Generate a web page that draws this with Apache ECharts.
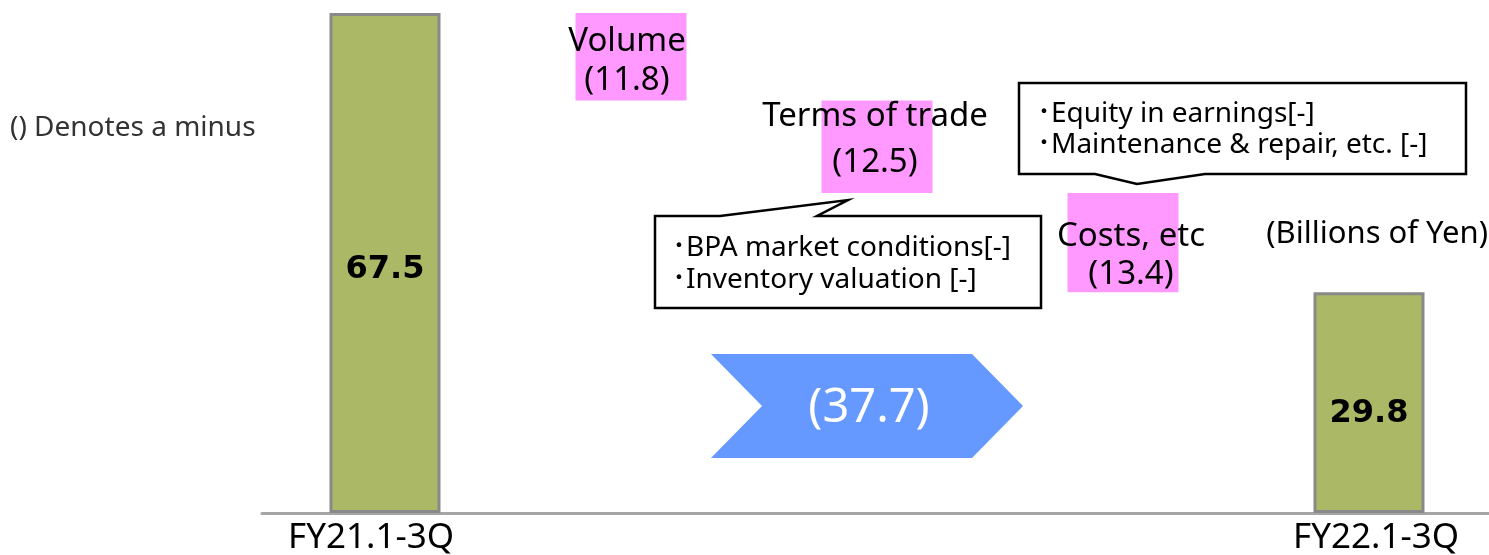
<!DOCTYPE html>
<html>
<head>
<meta charset="utf-8">
<script src="https://cdn.jsdelivr.net/npm/echarts@6/dist/echarts.min.js"></script>
<style>
  html, body { margin: 0; padding: 0; background: #fff; }
  #chart { width: 1489px; height: 555px; }
</style>
</head>
<body>
<div id="chart"></div>
<script>
// categories of the waterfall
const categories = ['FY21.1-3Q', 'Volume', 'Terms of trade', 'Costs, etc', 'FY22.1-3Q'];
// start / end totals (billions of yen)
const startValue = 67.5;
const endValue = 29.8;
// changes between the two periods (negative = minus)
const changes = [-11.8, -12.5, -13.4];

const FONT = '"Noto Sans", "Noto Sans CJK JP", sans-serif';
const BOLD_FONT = '"DejaVu Sans", sans-serif';

// build stacked series: invisible base, pink change bars, green totals
const baseData = [0];
const changeData = ['-'];
const totalData = [startValue];
let running = startValue;
changes.forEach(c => {
  running += c;
  baseData.push(+running.toFixed(1));
  changeData.push(Math.abs(c));
  totalData.push('-');
});
baseData.push(0);
changeData.push('-');
totalData.push(endValue);

// label tweaks for each change bar (offset, line height)
const changeLabelStyle = [
  null,
  { offset: [-4, 4], lineHeight: 39 },
  { offset: [-2, -7], lineHeight: 46 },
  { offset: [8, 13], lineHeight: 38 },
  null
];
const totalLabelOffset = [[0, 7], null, null, null, [0, 11]];

const chart = echarts.init(document.getElementById('chart'));

const option = {
  backgroundColor: '#ffffff',
  animation: false,
  grid: { left: 262, top: 13, width: 1230, bottom: 42, containLabel: false, outerBoundsMode: 'none' },
  xAxis: {
    type: 'category',
    data: categories,
    axisLine: { lineStyle: { color: '#a6a6a6', width: 3 } },
    axisTick: { show: false },
    axisLabel: {
      interval: 0,
      margin: 8,
      fontSize: 35,
      color: '#000',
      fontFamily: FONT,
      formatter: (v, i) => {
        if (i === 0) return '{l|' + v + '}';
        if (i === categories.length - 1) return '{r|' + v + '}';
        return '';
      },
      rich: {
        l: { fontSize: 35, fontFamily: FONT, color: '#000', padding: [0, 28, 0, 0] },
        r: { fontSize: 35, fontFamily: FONT, color: '#000', padding: [0, 0, 0, 14] }
      }
    }
  },
  yAxis: { type: 'value', min: 0, max: startValue, show: false },
  series: [
    {
      type: 'bar',
      stack: 'w',
      barWidth: 111,
      silent: true,
      itemStyle: { color: 'transparent' },
      data: baseData
    },
    {
      type: 'bar',
      stack: 'w',
      barWidth: 111,
      silent: true,
      itemStyle: { color: '#ff99ff' },
      data: changeData.map((v, i) => {
        if (v === '-') return v;
        const s = changeLabelStyle[i];
        return {
          value: v,
          label: {
            show: true,
            position: 'inside',
            offset: s.offset,
            lineHeight: s.lineHeight,
            fontSize: 33,
            color: '#000',
            fontFamily: FONT,
            formatter: p => p.name + '\n(' + p.value.toFixed(1) + ')'
          }
        };
      })
    },
    {
      type: 'bar',
      stack: 'w',
      barWidth: 111,
      silent: true,
      itemStyle: { color: '#abb966', borderColor: '#898989', borderWidth: 3 },
      data: totalData.map((v, i) => {
        if (v === '-') return v;
        return {
          value: v,
          label: {
            show: true,
            position: 'inside',
            offset: totalLabelOffset[i],
            fontSize: 32,
            fontWeight: 'bold',
            color: '#000',
            fontFamily: BOLD_FONT,
            formatter: p => p.value.toFixed(1)
          }
        };
      })
    }
  ],
  graphic: [
    {
      type: 'text',
      x: 10, y: 128,
      style: { text: '() Denotes a minus', font: '28px ' + FONT, fill: '#333', verticalAlign: 'middle' }
    },
    {
      type: 'text',
      x: 1488, y: 234,
      style: { text: '(Billions of Yen)', font: '31px ' + FONT, fill: '#000', align: 'right', verticalAlign: 'middle' }
    },
    // overall change arrow
    {
      type: 'polygon',
      shape: { points: [[711, 354], [972, 354], [1023, 406], [972, 458], [711, 458], [762, 406]] },
      style: { fill: '#6699ff' }
    },
    {
      type: 'text',
      x: 869, y: 409,
      style: {
        text: '(' + Math.abs(endValue - startValue).toFixed(1) + ')',
        font: '47px ' + FONT,
        fill: '#fff',
        align: 'center',
        verticalAlign: 'middle'
      }
    },
    // callout for terms of trade
    {
      type: 'polygon',
      shape: { points: [[655, 216], [720, 216], [848, 200], [817, 216], [1041, 216], [1041, 308], [655, 308]] },
      style: { fill: '#fff', stroke: '#000', lineWidth: 2.5 }
    },
    {
      type: 'text',
      x: 672, y: 264,
      style: { text: '･BPA market conditions[-]\n･Inventory valuation [-]', font: '28px ' + FONT, lineHeight: 32, fill: '#000', verticalAlign: 'middle' }
    },
    // callout for costs
    {
      type: 'polygon',
      shape: { points: [[1019, 83], [1466, 83], [1466, 174], [1205, 174], [1137, 184], [1095, 174], [1019, 174]] },
      style: { fill: '#fff', stroke: '#000', lineWidth: 2.5 }
    },
    {
      type: 'text',
      x: 1037, y: 130,
      style: { text: '･Equity in earnings[-]\n･Maintenance & repair, etc. [-]', font: '28px ' + FONT, lineHeight: 31, fill: '#000', verticalAlign: 'middle' }
    }
  ]
};

chart.setOption(option);
window.addEventListener('resize', () => chart.resize());
</script>
</body>
</html>
